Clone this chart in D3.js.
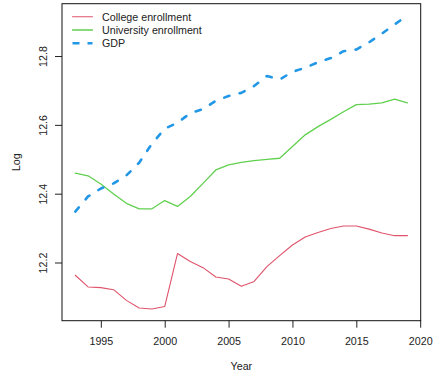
<!DOCTYPE html>
<html>
<head>
<meta charset="utf-8">
<script src="https://cdn.jsdelivr.net/npm/d3@7"></script>
<style>
  html, body { margin: 0; padding: 0; background: #fff; }
  svg { display: block; font-family: "Liberation Sans", Arial, Helvetica, sans-serif; }
</style>
</head>
<body>
<svg id="chart" width="433" height="376"></svg>
<script>
// Yearly series (log scale values)
const years = [1993, 1994, 1995, 1996, 1997, 1998, 1999, 2000, 2001, 2002, 2003, 2004, 2005,
               2006, 2007, 2008, 2009, 2010, 2011, 2012, 2013, 2014, 2015, 2016, 2017, 2018, 2019];

const college = [12.163, 12.129, 12.127, 12.121, 12.090, 12.068, 12.065, 12.072, 12.226, 12.203,
                 12.185, 12.158, 12.152, 12.131, 12.145, 12.188, 12.220, 12.251, 12.274, 12.287,
                 12.299, 12.306, 12.306, 12.297, 12.286, 12.278, 12.278];

const university = [12.460, 12.452, 12.428, 12.399, 12.372, 12.356, 12.356, 12.380, 12.363, 12.392,
                    12.430, 12.469, 12.484, 12.491, 12.496, 12.500, 12.503, 12.537, 12.571, 12.595,
                    12.616, 12.638, 12.659, 12.660, 12.664, 12.675, 12.664];

const gdp = [12.348, 12.392, 12.415, 12.430, 12.453, 12.490, 12.545, 12.589, 12.606, 12.634,
             12.646, 12.670, 12.684, 12.693, 12.713, 12.742, 12.732, 12.754, 12.766, 12.782,
             12.794, 12.814, 12.819, 12.840, 12.865, 12.892, 12.918];

const seriesNames = ["College enrollment", "University enrollment", "GDP"];
const xTicks = [1995, 2000, 2005, 2010, 2015, 2020];
const yTicks = [12.2, 12.4, 12.6, 12.8];

const colors = ["#DF536B", "#61D04F", "#2297E6"];
const dashes = [null, null, "5.5,10.5"];
const widths = [1.1, 1.3, 2.6];

const svg = d3.select("#chart");
const box = { left: 62, right: 420.7, top: 3.7, bottom: 320.7 };

// R-style 4% padding on both axes
function padded(ext) {
  const r = ext[1] - ext[0];
  return [ext[0] - 0.04 * r, ext[1] + 0.04 * r];
}
const allVals = college.concat(university, gdp);
const x = d3.scaleLinear().domain(padded(d3.extent(years))).range([box.left, box.right]);
const y = d3.scaleLinear().domain(padded(d3.extent(allVals))).range([box.bottom, box.top]);

// Series lines
const line = d3.line().x((d, i) => x(years[i])).y(d => y(d));
[college, university, gdp].forEach((vals, k) => {
  svg.append("path")
    .attr("d", line(vals))
    .attr("fill", "none")
    .attr("stroke", colors[k])
    .attr("stroke-width", widths[k])
    .attr("stroke-linecap", "round")
    .attr("stroke-linejoin", "round")
    .attr("stroke-dasharray", dashes[k]);
});

// Axes
const xAxis = svg.append("g")
  .attr("transform", `translate(0,${box.bottom})`)
  .call(d3.axisBottom(x).tickValues(xTicks).tickFormat(d3.format("d")).tickSize(7).tickPadding(10));
const yAxis = svg.append("g")
  .attr("transform", `translate(${box.left},0)`)
  .call(d3.axisLeft(y).tickValues(yTicks).tickFormat(d3.format(".1f")).tickSize(7).tickPadding(8));

[xAxis, yAxis].forEach(g => {
  g.select(".domain").remove();
  g.selectAll(".tick line").attr("stroke", "#222").attr("stroke-width", 1);
  g.selectAll("text").attr("fill", "#222").style("font-size", "10.7px")
    .style("font-family", "'Liberation Sans', Arial, sans-serif");
});
// rotated y tick labels
yAxis.selectAll(".tick text")
  .attr("x", null).attr("dy", null)
  .attr("text-anchor", "middle")
  .attr("transform", "translate(-15.5,0) rotate(-90)");

// Plot frame
svg.append("rect")
  .attr("x", box.left).attr("y", box.top)
  .attr("width", box.right - box.left).attr("height", box.bottom - box.top)
  .attr("fill", "none").attr("stroke", "#111").attr("stroke-width", 1);

// Axis titles
svg.append("text")
  .attr("x", (box.left + box.right) / 2).attr("y", 370)
  .attr("text-anchor", "middle").attr("fill", "#222")
  .style("font-size", "10.7px").text("Year");
svg.append("text")
  .attr("transform", `translate(19.5,${(box.top + box.bottom) / 2}) rotate(-90)`)
  .attr("text-anchor", "middle").attr("fill", "#222")
  .style("font-size", "10.7px").text("Log");

// Legend
const legend = svg.append("g");
seriesNames.forEach((name, k) => {
  const ly = 16.7 + k * 13.3;
  legend.append("line")
    .attr("x1", 72.5).attr("x2", 92.5).attr("y1", ly).attr("y2", ly)
    .attr("stroke", colors[k])
    .attr("stroke-width", widths[k])
    .attr("stroke-linecap", k === 2 ? "butt" : "round")
    .attr("stroke-dasharray", k === 2 ? "7,8" : null);
  legend.append("text")
    .attr("x", 102).attr("y", ly + 3.8)
    .attr("fill", "#222").style("font-size", "10.7px")
    .text(name);
});
</script>
</body>
</html>
